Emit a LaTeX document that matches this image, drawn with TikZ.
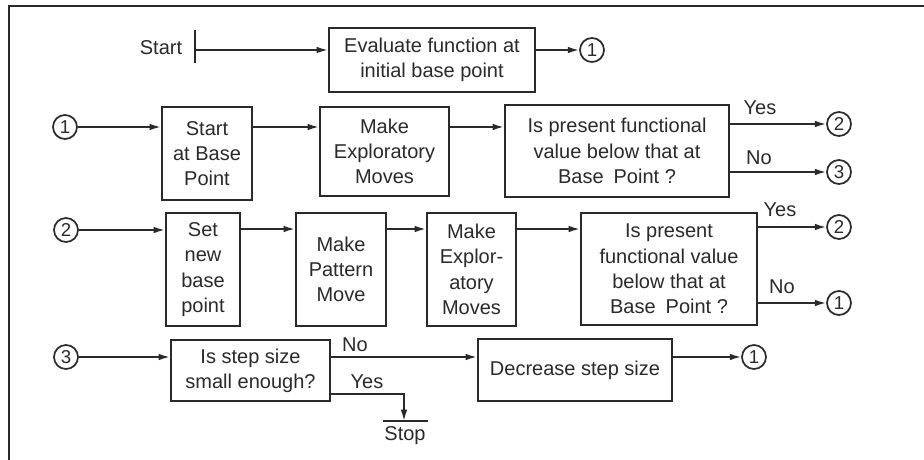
\documentclass[tikz,border=0pt]{standalone}
\usepackage{fontspec}
\setmainfont{Liberation Sans}
\usetikzlibrary{arrows.meta}
\definecolor{ink}{HTML}{2A2A2A}
\newcommand{\boxfont}{\fontsize{15}{19}\selectfont}
\newcommand{\numfont}{\fontsize{14}{14}\selectfont}
\tikzset{
  box/.style={draw=ink, line width=1.7pt, align=center, inner sep=2pt,
    font=\boxfont, text=ink},
  conn/.style={draw=ink, line width=1.3pt, -{Latex[length=8.5pt,width=5pt]}},
  plain/.style={draw=ink, line width=1.3pt},
  cnum/.style={circle, draw=ink, line width=1.3pt, inner sep=0pt,
    minimum size=18pt, font=\numfont, text=ink},
  lbl/.style={font=\boxfont, text=ink, inner sep=0pt},
  frame/.style={draw=ink, line width=1.5pt}
}
\begin{document}
\begin{tikzpicture}[x=0.75pt, y=-0.75pt]
  \useasboundingbox (0,0) rectangle (924,460);
  \fill[white] (0,0) rectangle (924,460);
  % page frame (top and left edges)
  \draw[frame] (924,6) -- (9,6) -- (9,460);

  % ---- row 0: start ----
  \node[lbl] (start) at (161,48) {Start};
  \coordinate (bartop) at (195,30);
  \coordinate (barbot) at (195,63);
  \coordinate (bar) at (195,50);
  \draw[plain] (bartop) -- (barbot);
  \node[box, minimum width=154.5pt, minimum height=48pt] (eval) at (432,60)
    {Evaluate function at\\initial base point};
  \node[cnum] (c0) at (592,50) {1};
  \draw[conn] (bar) -- (eval.west |- bar);
  \draw[conn] (eval.east |- c0) -- (c0);

  % ---- row 1: exploratory search ----
  \coordinate (r1) at (0,127);
  \node[cnum] (c1) at (65,127) {1};
  \node[box, minimum width=67.5pt, minimum height=69.75pt] (startbp) at (207,153.5)
    {Start\\at Base\\Point};
  \node[box, minimum width=96.75pt, minimum height=66.75pt] (explore1) at (384.5,151.5)
    {Make\\Exploratory\\Moves};
  \node[box, minimum width=168pt, minimum height=69pt] (test1) at (617,151)
    {Is present functional\\value below that at\\Base\enspace Point ?};
  \node[cnum] (c1y) at (839,124) {2};
  \node[cnum] (c1n) at (839,172) {3};
  \draw[conn] (c1) -- (startbp.west |- c1);
  \draw[conn] (startbp.east |- r1) -- (explore1.west |- r1);
  \draw[conn] (explore1.east |- r1) -- (test1.west |- r1);
  \draw[conn] (test1.east |- c1y) -- (c1y);
  \draw[conn] (test1.east |- c1n) -- (c1n);
  \node[lbl] (y1) at (760,108) {Yes};
  \node[lbl] (n1) at (759,158) {No};

  % ---- row 2: pattern move ----
  \coordinate (r2) at (0,229);
  \node[cnum] (c2) at (66,230) {2};
  \node[box, minimum width=55.5pt, minimum height=84.75pt] (setnew) at (203,269.5)
    {Set\\new\\base\\point};
  \node[box, minimum width=67.5pt, minimum height=84.75pt] (pattern) at (341,269.5)
    {Make\\Pattern\\Move};
  \node[box, minimum width=66.75pt, minimum height=84.75pt] (explore2) at (471.5,269.5)
    {Make\\Explor-\\atory\\Moves};
  \node[box, minimum width=132pt, minimum height=84pt] (test2) at (669,269)
    {Is present\\functional value\\below that at\\Base\enspace Point ?};
  \node[cnum] (c2y) at (839,227) {2};
  \node[cnum] (c2n) at (839,303) {1};
  \draw[conn] (c2) -- (setnew.west |- c2);
  \draw[conn] (setnew.east |- r2) -- (pattern.west |- r2);
  \draw[conn] (pattern.east |- r2) -- (explore2.west |- r2);
  \draw[conn] (explore2.east |- r2) -- (test2.west |- r2);
  \draw[conn] (test2.east |- c2y) -- (c2y);
  \draw[conn] (test2.east |- c2n) -- (c2n);
  \node[lbl] (y2) at (780,210) {Yes};
  \node[lbl] (n2) at (782,287) {No};

  % ---- row 3: step size ----
  \node[cnum] (c3) at (66,357) {3};
  \node[box, minimum width=119.25pt, minimum height=45.75pt] (small) at (250.5,370.5)
    {Is step size\\small enough?};
  \node[box, minimum width=145.5pt, minimum height=46.5pt] (decrease) at (575,370)
    {Decrease step size};
  \node[cnum] (c3o) at (754,357) {1};
  \draw[conn] (c3) -- (small.west |- c3);
  \draw[conn] (small.east |- c3) -- (decrease.west |- c3);
  \draw[conn] (decrease.east |- c3o) -- (c3o);
  \node[lbl] (n3) at (355,345) {No};
  \node[lbl] (y3) at (367,382) {Yes};
  \coordinate (yesy) at (0,394);
  \coordinate (stop) at (404,421);
  \coordinate (stopL) at (383,421);
  \coordinate (stopR) at (428,421);
  \draw[conn] (small.east |- yesy) -| (stop);
  \draw[plain] (stopL) -- (stopR);
  \node[lbl] (stoptext) at (405,436) {Stop};
\end{tikzpicture}
\end{document}
